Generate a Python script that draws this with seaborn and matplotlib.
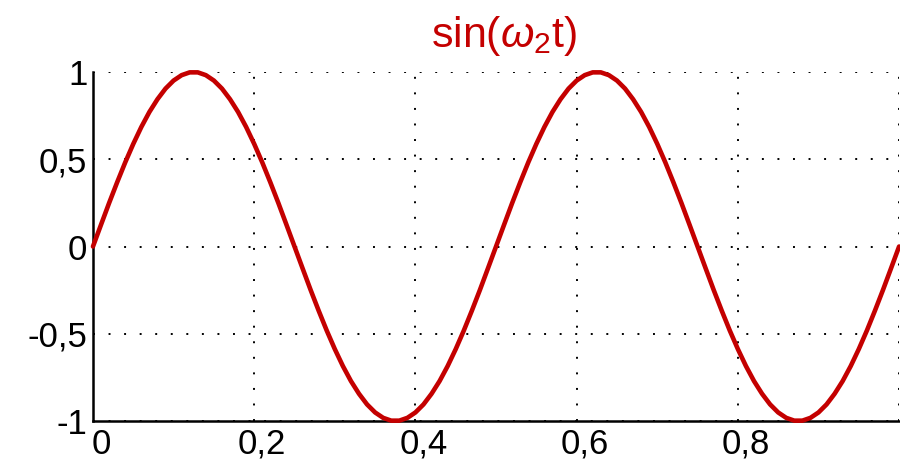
import matplotlib
matplotlib.use("Agg")
import matplotlib.pyplot as plt
import matplotlib.transforms as mtransforms
import seaborn as sns
import pandas as pd

# time samples (s)
t = [0.00, 0.01, 0.02, 0.03, 0.04, 0.05, 0.06, 0.07, 0.08, 0.09,
     0.10, 0.11, 0.12, 0.13, 0.14, 0.15, 0.16, 0.17, 0.18, 0.19,
     0.20, 0.21, 0.22, 0.23, 0.24, 0.25, 0.26, 0.27, 0.28, 0.29,
     0.30, 0.31, 0.32, 0.33, 0.34, 0.35, 0.36, 0.37, 0.38, 0.39,
     0.40, 0.41, 0.42, 0.43, 0.44, 0.45, 0.46, 0.47, 0.48, 0.49,
     0.50, 0.51, 0.52, 0.53, 0.54, 0.55, 0.56, 0.57, 0.58, 0.59,
     0.60, 0.61, 0.62, 0.63, 0.64, 0.65, 0.66, 0.67, 0.68, 0.69,
     0.70, 0.71, 0.72, 0.73, 0.74, 0.75, 0.76, 0.77, 0.78, 0.79,
     0.80, 0.81, 0.82, 0.83, 0.84, 0.85, 0.86, 0.87, 0.88, 0.89,
     0.90, 0.91, 0.92, 0.93, 0.94, 0.95, 0.96, 0.97, 0.98, 0.99,
     1.00]

# signal values
y = [0.000, 0.125, 0.249, 0.368, 0.482, 0.588, 0.685, 0.771, 0.844, 0.905,
     0.951, 0.982, 0.998, 0.998, 0.982, 0.951, 0.905, 0.844, 0.771, 0.685,
     0.588, 0.482, 0.368, 0.249, 0.125, 0.000, -0.125, -0.249, -0.368, -0.482,
     -0.588, -0.685, -0.771, -0.844, -0.905, -0.951, -0.982, -0.998, -0.998, -0.982,
     -0.951, -0.905, -0.844, -0.771, -0.685, -0.588, -0.482, -0.368, -0.249, -0.125,
     0.000, 0.125, 0.249, 0.368, 0.482, 0.588, 0.685, 0.771, 0.844, 0.905,
     0.951, 0.982, 0.998, 0.998, 0.982, 0.951, 0.905, 0.844, 0.771, 0.685,
     0.588, 0.482, 0.368, 0.249, 0.125, 0.000, -0.125, -0.249, -0.368, -0.482,
     -0.588, -0.685, -0.771, -0.844, -0.905, -0.951, -0.982, -0.998, -0.998, -0.982,
     -0.951, -0.905, -0.844, -0.771, -0.685, -0.588, -0.482, -0.368, -0.249, -0.125,
     0.000]

x_ticks = [0.0, 0.2, 0.4, 0.6, 0.8, 1.0]
x_labels = ["0", "0,2", "0,4", "0,6", "0,8", ""]
y_ticks = [-1.0, -0.5, 0.0, 0.5, 1.0]
y_labels = ["-1", "-0,5", "0", "0,5", "1"]
title = r"sin($\omega_2$t)"

sns.set_style("white")
plt.rcParams["font.family"] = ["Liberation Sans", "DejaVu Sans"]
plt.rcParams["mathtext.fontset"] = "custom"
plt.rcParams["mathtext.rm"] = "Liberation Sans"
plt.rcParams["mathtext.it"] = "Liberation Sans:italic"

df = pd.DataFrame({"t": t, "y": y})

fig = plt.figure(figsize=(9.0, 4.67), dpi=100)
ax = fig.add_axes([0.1033, 0.0985, 0.8957, 0.7473])

sns.lineplot(data=df, x="t", y="y", ax=ax, color="#C40000", linewidth=3.3,
             clip_on=False, zorder=5)

ax.set_xlim(0, 1)
ax.set_ylim(-1, 1)
ax.set_xticks(x_ticks)
ax.set_xticklabels(x_labels)
ax.set_yticks(y_ticks)
ax.set_yticklabels(y_labels)
ax.set_xlabel("")
ax.set_ylabel("")

ax.grid(True, color="black", linestyle=(0, (1, 7)), linewidth=1.4)
for side in ["top", "right"]:
    ax.spines[side].set_visible(False)
for side in ["left", "bottom"]:
    ax.spines[side].set_color("black")
    ax.spines[side].set_linewidth(1.8)

ax.tick_params(axis="both", direction="in", length=8, width=1.5,
               colors="black", labelsize=25)
ax.tick_params(axis="y", pad=4)
ax.tick_params(axis="x", pad=5)

offset = mtransforms.ScaledTranslation(8 / 100, 0, fig.dpi_scale_trans)
for lab in ax.get_xticklabels():
    lab.set_transform(lab.get_transform() + offset)

ax.set_title(title, color="#C40000", fontsize=31, pad=18, x=0.51)

fig.savefig("out.png", dpi=100)
